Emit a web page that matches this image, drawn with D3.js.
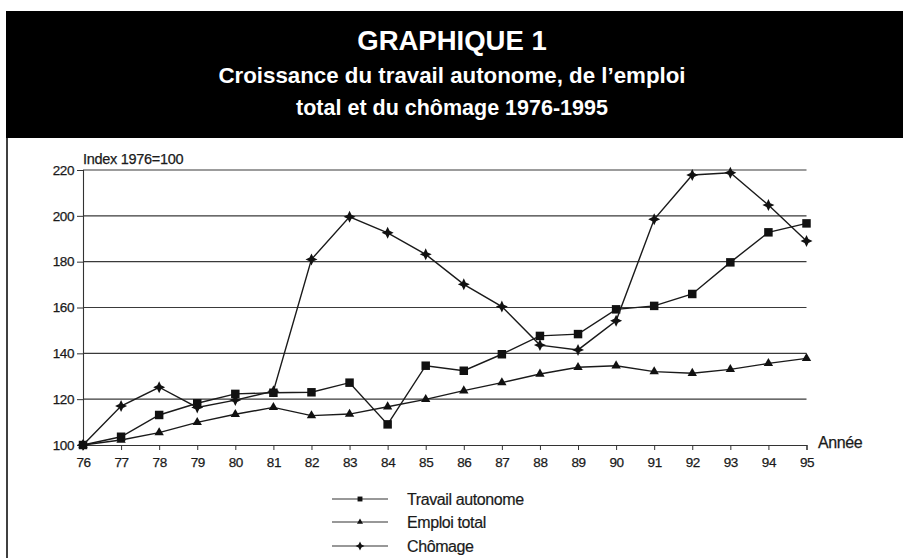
<!DOCTYPE html>
<html><head><meta charset="utf-8">
<script src="https://cdnjs.cloudflare.com/ajax/libs/d3/7.8.5/d3.min.js"></script>
<style>
body{margin:0;background:#fff;}
svg{display:block;font-family:"Liberation Sans",Arial,sans-serif;}
</style></head>
<body><svg id="c" width="903" height="558"></svg>
<script>
const years = ["76","77","78","79","80","81","82","83","84","85","86","87","88","89","90","91","92","93","94","95"];
const travailAutonome = [100,103.6,113.1,118.2,122.3,122.8,123.0,127.2,109.0,134.6,132.4,139.6,147.6,148.4,159.2,160.7,165.9,179.7,192.8,196.7];
const emploiTotal = [100,102.2,105.4,109.9,113.4,116.4,112.8,113.5,116.7,119.9,123.7,127.2,131.0,133.9,134.6,132.0,131.3,133.0,135.6,137.8];
const chomage = [100,117.0,125.2,116.4,119.6,123.5,181.0,199.6,192.6,183.2,170.1,160.4,143.6,141.5,154.2,198.5,217.8,218.8,204.7,189.0];
const yTicks = [100,120,140,160,180,200,220];
const titleLines = ["GRAPHIQUE 1","Croissance du travail autonome, de l\u2019emploi","total et du chômage 1976-1995"];
const seriesNames = ["Travail autonome","Emploi total","Chômage"];

const svg = d3.select("#c");
const ink = "#1a1a1a";

// header band
svg.append("rect").attr("x",6).attr("y",11).attr("width",897).attr("height",127).attr("fill","#000");
svg.append("line").attr("x1",7).attr("x2",7).attr("y1",138).attr("y2",558).attr("stroke","#000").attr("stroke-width",1.5);
const tSizes=[27.5,22.3,21.5], tY=[50,83,115];
titleLines.forEach((t,i)=>{
  svg.append("text").attr("x",452).attr("y",tY[i]).attr("text-anchor","middle")
    .attr("fill","#fff").attr("font-weight","bold").attr("font-size",tSizes[i]).text(t);
});

const x = d3.scalePoint().domain(years).range([83,806.5]);
const y = d3.scaleLinear().domain([100,220]).range([445,170]);

// gridlines
const g = svg.append("g");
g.selectAll("line.grid").data(yTicks.filter(v=>v>100)).join("line")
  .attr("x1",x.range()[0]).attr("x2",x.range()[1])
  .attr("y1",d=>y(d)).attr("y2",d=>y(d)).attr("stroke","#3a3a3a").attr("stroke-width",1.1);

// axes
const xAxis = svg.append("g").attr("transform",`translate(0,${y(100)})`)
  .call(d3.axisBottom(x).tickSize(5).tickPadding(6));
const yAxis = svg.append("g").attr("transform",`translate(${x("76")},0)`)
  .call(d3.axisLeft(y).tickValues(yTicks).tickSize(6).tickPadding(3));
[xAxis,yAxis].forEach(a=>{
  a.select(".domain").attr("stroke","#333").attr("stroke-width",1.1);
  a.selectAll(".tick line").attr("stroke","#333");
  a.selectAll("text").attr("fill",ink).attr("font-size",13.5).attr("letter-spacing","-0.4")
    .attr("stroke",ink).attr("stroke-width",0.25)
    .attr("font-family","'Liberation Sans',Arial,sans-serif");
});
xAxis.selectAll("text").attr("dy","0.85em");

svg.append("text").attr("x",83).attr("y",164).attr("font-size",14.5).attr("letter-spacing","-0.3")
  .attr("stroke",ink).attr("stroke-width",0.25).attr("fill",ink).text("Index 1976=100");
svg.append("text").attr("x",818).attr("y",448).attr("font-size",16).attr("letter-spacing","-0.4")
  .attr("stroke",ink).attr("stroke-width",0.25).attr("fill",ink).text("Année");

// custom 4-point star
const star4 = {draw(ctx,size){const r=Math.sqrt(size)*0.75,w=r*0.32;
  ctx.moveTo(0,-r);ctx.lineTo(w,-w);ctx.lineTo(r,0);ctx.lineTo(w,w);ctx.lineTo(0,r);ctx.lineTo(-w,w);ctx.lineTo(-r,0);ctx.lineTo(-w,-w);ctx.closePath();}};

const series = [
  {name:seriesNames[0], values:travailAutonome, sym:d3.symbolSquare, size:72, lsize:24},
  {name:seriesNames[1], values:emploiTotal, sym:d3.symbolTriangle, size:38, lsize:16},
  {name:seriesNames[2], values:chomage, sym:star4, size:64, lsize:36}
];
const line = d3.line().x((d,i)=>x(years[i])).y(d=>y(d));
series.forEach(s=>{
  svg.append("path").attr("d",line(s.values)).attr("fill","none").attr("stroke",ink).attr("stroke-width",1.4);
  svg.append("g").selectAll("path").data(s.values).join("path")
    .attr("transform",(d,i)=>`translate(${x(years[i])},${y(d)})`)
    .attr("d",d3.symbol().type(s.sym).size(s.size)).attr("fill","#111");
});

// legend
const legY=[499,522,546];
series.forEach((s,i)=>{
  const lg=svg.append("g").attr("transform",`translate(0,${legY[i]})`);
  lg.append("line").attr("x1",332).attr("x2",388).attr("stroke","#333").attr("stroke-width",1.2);
  lg.append("path").attr("transform","translate(360,0)").attr("d",d3.symbol().type(s.sym).size(s.lsize)).attr("fill","#111");
  lg.append("text").attr("x",407).attr("y",5.5).attr("font-size",16).attr("letter-spacing","-0.4")
    .attr("stroke",ink).attr("stroke-width",0.2).attr("fill",ink).text(s.name);
});
</script></body></html>
